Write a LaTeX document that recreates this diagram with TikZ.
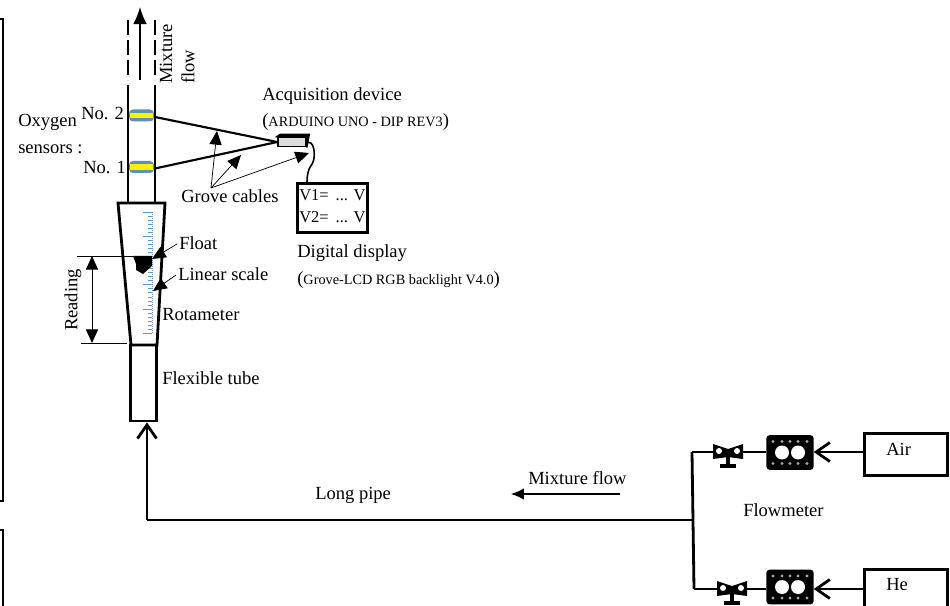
\documentclass[tikz,border=0pt]{standalone}
\usepackage{fontspec}
\setmainfont{Liberation Serif}
\usetikzlibrary{arrows.meta,calc,positioning}
\definecolor{ink}{HTML}{000000}
\definecolor{scaleblue}{HTML}{5B9BD5}
\definecolor{sensoryellow}{HTML}{FFF200}
\definecolor{sensorblue}{HTML}{5F8FB5}
\definecolor{devicegray}{HTML}{DDDDDD}
\tikzset{
  pipeline/.style={draw=ink,line width=2.1pt},
  thinline/.style={draw=ink,line width=0.7pt},
  flowarr/.style={-{Latex[length=4.5mm,width=3.6mm]},line width=1.1pt},
  barbarr/.style={-{Straight Barb[length=3.6mm,width=5mm]},line width=2.1pt},
  calloutarr/.style={-{Triangle[length=3.6mm,width=3.2mm]},line width=0.55pt},
  textlabel/.style={inner sep=0pt,anchor=west,font=\fontsize{13.9}{15}\selectfont},
  voltlabel/.style={inner sep=0pt,anchor=west,font=\fontsize{12.4}{14}\selectfont},
  smalllabel/.style={inner sep=0pt,anchor=west,font=\fontsize{10.7}{12}\selectfont},
  gasbox/.style={draw=ink,line width=2.1pt,fill=white,minimum width=62pt,minimum height=31pt,inner sep=0pt},
  metrebox/.style={draw=ink,fill=ink,line width=1.6pt,rounded corners=2pt,minimum width=34pt,minimum height=24.5pt,inner sep=0pt},
  tubebox/.style={draw=ink,line width=2.1pt,minimum width=20pt,minimum height=57pt,inner sep=0pt}
}
\begin{document}
\begin{tikzpicture}[x=0.75pt,y=-0.75pt,>=Latex]
  \useasboundingbox (0,0) rectangle (950,606);
  % frame pieces on the left
  \draw[pipeline] (0,19) -- (3,19) -- (3,501) -- (0,501);
  \draw[pipeline] (0,530) -- (3,530) -- (3,606);
  % riser
  \draw[pipeline] (128,85) -- (128,203);
  \draw[pipeline] (155,85) -- (155,203);
  \draw[pipeline,dash pattern=on 11pt off 4pt] (128,20) -- (128,80);
  \draw[pipeline,dash pattern=on 11pt off 4pt] (155,20) -- (155,80);
  \coordinate (flowstart) at (140,80);
  \coordinate (flowend) at (140,7);
  \draw[flowarr] (flowstart) -- (flowend);
  \node[textlabel,rotate=90] (mixturev) at (166,84) {Mixture};
  \node[textlabel,rotate=90] (flowv) at (188,84) {flow};
  % oxygen sensors
  \foreach \name/\sy in {two/115.5,one/167} {
    \fill[sensorblue,rounded corners=3pt] (129,\sy-6) rectangle (154,\sy+6);
    \fill[sensoryellow] (130,\sy-2.5) rectangle (153,\sy+3);
    \coordinate (sensor\name) at (155,\sy+1.5);
  }
  \node[textlabel] (notwo) at (81,113) {No. 2};
  \node[textlabel] (noone) at (83,168) {No. 1};
  \node[textlabel] (oxygen) at (18,122) {Oxygen};
  \node[textlabel] (sensors) at (18,149) {sensors :};
  % acquisition device
  \node[draw=ink,fill=devicegray,line width=1.2pt,minimum width=21pt,minimum height=7pt,inner sep=0pt] (device) at (292,142) {};
  \draw[line width=1.2pt,fill=ink] (device.north west) -- ++(3,-2) -- ++(29,0) -- (device.south east) -- (device.north east) -- cycle;
  \draw[line width=1.6pt] (sensortwo) -- (device.west);
  \draw[line width=1.6pt] (sensorone) -- (device.west);
  \node[textlabel] (acq) at (262,96) {Acquisition device};
  \node[smalllabel] (arduino) at (262,122) {\fontsize{14}{15}\selectfont(\fontsize{10.7}{12}\selectfont ARDUINO UNO - DIP REV3\fontsize{14}{15}\selectfont)};
  % display
  \node[draw=ink,line width=2.1pt,minimum width=53pt,minimum height=37pt,inner sep=0pt] (display) at (332.5,208) {};
  \node[voltlabel] (vone) at (299,195) {V1=\, ... V};
  \node[voltlabel] (vtwo) at (299,217) {V2=\, ... V};
  \coordinate (displaytop) at (307,183);
  \draw[line width=1.2pt] (device.east) .. controls (313,141) and (315,150) .. (314,158) .. controls (313,167) and (307,165) .. (displaytop);
  \node[textlabel] (digital) at (297,253) {Digital display};
  \node[smalllabel] (grovelcd) at (297,280) {\fontsize{14}{15}\selectfont(\fontsize{10.7}{12}\selectfont Grove-LCD RGB backlight V4.0\fontsize{14}{15}\selectfont)};
  % grove cables
  \node[textlabel] (grove) at (181,196) {Grove cables};
  \coordinate (cablefan) at (211,188);
  \coordinate (cablea) at (217,131);
  \coordinate (cableb) at (241,155);
  \coordinate (cablec) at (309,153);
  \foreach \tip in {cablea,cableb,cablec}
    \draw[calloutarr] (cablefan) -- (\tip);
  % rotameter
  \draw[pipeline] (118,203) -- (165,203) -- (157,345) -- (131,345) -- cycle;
  \foreach \k in {0,...,30} {
    \pgfmathsetmacro{\ty}{212+\k*4.04}
    \draw[scaleblue,line width=0.5pt] (148,\ty) -- (152,\ty);
  }
  \foreach \k in {0,...,5} {
    \pgfmathsetmacro{\ty}{212+\k*24.24}
    \draw[scaleblue,line width=0.6pt] (143,\ty) -- (152,\ty);
  }
  \draw[scaleblue,line width=0.5pt,densely dotted] (152,212) -- (152,333);
  \fill[ink] (133,256) -- (152,256) -- (152,266) -- (143,274) -- (136,270) -- (136,264) -- cycle;
  \node[textlabel] (float) at (179,243) {Float};
  \node[textlabel] (linear) at (178,274) {Linear scale};
  \node[textlabel] (rotameter) at (162,315) {Rotameter};
  \coordinate (floattip) at (152,259);
  \coordinate (lineartip) at (153,291);
  \draw[calloutarr] (float.west) ++(-2,1) -- (floattip);
  \draw[calloutarr] (linear.west) ++(-2,1) -- (lineartip);
  % reading
  \coordinate (readtop) at (92,256);
  \coordinate (readbot) at (92,343);
  \draw[thinline] (77,256) -- (133,256);
  \draw[thinline] (81,343) -- (127,343);
  \draw[{Triangle[length=3.6mm,width=3.2mm]}-{Triangle[length=3.6mm,width=3.2mm]},line width=0.7pt] (readtop) -- (readbot);
  \node[textlabel,rotate=90,anchor=center] (reading) at (73,300) {Reading};
  % flexible tube and long pipe
  \node[tubebox] (flextube) at (143.5,383) {};
  \node[textlabel] (flexlabel) at (162,378) {Flexible tube};
  \coordinate (junction) at (693,520);
  \coordinate (corner) at (147,520);
  \draw[pipeline] (junction) -- (corner);
  \draw[barbarr] (corner) -- (flextube.south -| corner);
  \node[textlabel] (longpipe) at (315,495) {Long pipe};
  \node[textlabel] (mixture) at (528,478) {Mixture flow};
  \coordinate (mixstart) at (620,494);
  \coordinate (mixend) at (511,494);
  \draw[-{Latex[length=3.4mm,width=3mm]},line width=0.9pt] (mixstart) -- (mixend);
  \node[textlabel] (flowmeter) at (743,510) {Flowmeter};
  % gas lines
  \draw[pipeline] (692,452) -- (694,589);
  \foreach \name/\gas/\gy/\bx/\vx/\my/\by in {air/Air/452/692/728/452.5/454.5,he/He/589/694/732/587/590} {
    \node[gasbox] (\name box) at (906,\by) {};
    \node[metrebox] (\name meter) at (790,\my) {};
    \node[textlabel] (\name label) at (886,\by-5) {\gas};
    \coordinate (\name valve) at (\vx,\gy);
    \draw[pipeline] (\bx,\gy) -- (\name meter.west |- 0,\gy);
    \draw[barbarr] (\name box.west |- 0,\gy) -- (\name meter.east |- 0,\gy);
    % two windows of the meter
    \fill[white] ($(\name meter)+(-8,0)$) circle (7);
    \fill[white] ($(\name meter)+(8,0)$) circle (7);
    \foreach \dx in {-17,-8,0,8,17} {
      \fill[white!65!black] ($(\name meter)+(\dx,-11)$) circle (1.7);
      \fill[white!65!black] ($(\name meter)+(\dx,11)$) circle (1.7);
    }
    % valve
    \fill[ink] ($(\name valve)+(-15,-8)$) -- ($(\name valve)+(-6,-5)$) -- ($(\name valve)+(0,-3)$) -- ($(\name valve)+(6,-5)$) -- ($(\name valve)+(15,-8)$) -- ($(\name valve)+(15,7)$) -- ($(\name valve)+(0,5)$) -- ($(\name valve)+(-15,7)$) -- cycle;
    \fill[white] ($(\name valve)+(-9,-1)$) circle (3);
    \fill[white] ($(\name valve)+(9,-1)$) circle (3);
    \fill[ink] ($(\name valve)+(-2,0)$) rectangle ($(\name valve)+(2,14)$);
    \fill[ink] ($(\name valve)+(-8,12)$) rectangle ($(\name valve)+(8,16)$);
  }
\end{tikzpicture}
\end{document}
